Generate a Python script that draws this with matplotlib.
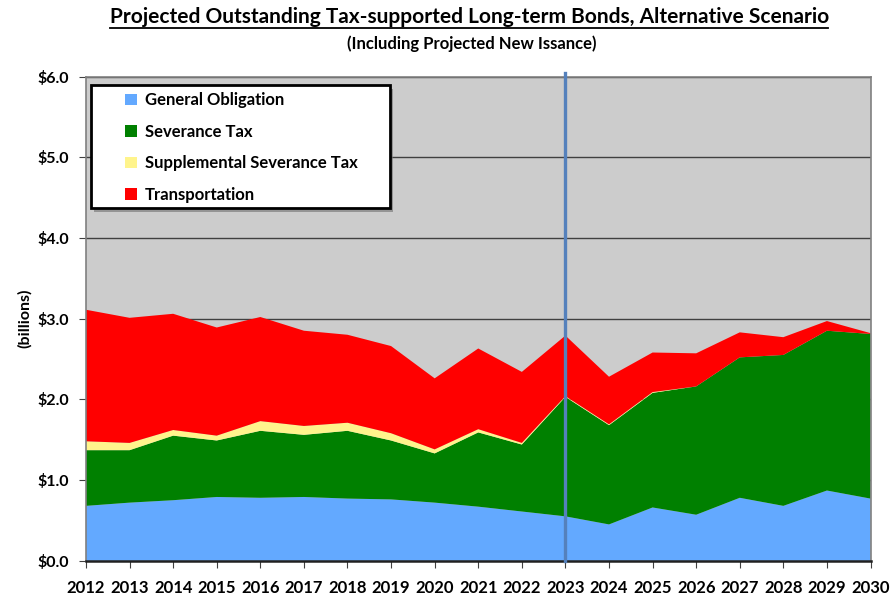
import matplotlib.pyplot as plt
from matplotlib.patches import Patch, Rectangle

plt.rcParams['font.family'] = ['Lato', 'DejaVu Sans']
plt.rcParams['font.weight'] = 'bold'

# Données (milliards de $)
annees = list(range(2012, 2031))
general_obligation = [0.68, 0.72, 0.75, 0.79, 0.78, 0.79, 0.77, 0.76, 0.72, 0.67,
                      0.61, 0.55, 0.45, 0.66, 0.57, 0.78, 0.68, 0.87, 0.77]
severance_tax = [0.69, 0.65, 0.80, 0.70, 0.83, 0.77, 0.84, 0.73, 0.61, 0.92,
                 0.83, 1.48, 1.23, 1.42, 1.59, 1.74, 1.87, 1.98, 2.04]
supplemental_severance = [0.11, 0.09, 0.07, 0.06, 0.12, 0.11, 0.10, 0.09, 0.05, 0.04,
                          0.02, 0.01, 0.01, 0.01, 0.0, 0.0, 0.0, 0.0, 0.0]
transportation = [1.63, 1.55, 1.44, 1.34, 1.29, 1.18, 1.09, 1.08, 0.88, 1.00,
                  0.88, 0.75, 0.59, 0.49, 0.41, 0.31, 0.22, 0.12, 0.01]

noms = ['General Obligation', 'Severance Tax', 'Supplemental Severance Tax', 'Transportation']
couleurs = ['#63A9FF', '#008000', '#FFF48C', '#FF0000']
annee_coupure = 2023

fig = plt.figure(figsize=(8.91, 5.95), dpi=100)
ax = fig.add_axes([0.0965, 0.0576, 0.8805, 0.8138])
ax.set_facecolor('#CCCCCC')

ax.stackplot(annees, general_obligation, severance_tax, supplemental_severance,
             transportation, colors=couleurs, zorder=2)

# Grille horizontale
for y in range(1, 7):
    ax.axhline(y, color='#404040', lw=1, zorder=1)

# Ligne verticale de séparation (dépasse un peu en haut)
ax.axvline(annee_coupure, ymin=0, ymax=1.007, color='#5581BC', lw=2.4, zorder=3,
           clip_on=False)

ax.set_xlim(2012, 2030)
ax.set_ylim(0, 6)
ax.set_xticks(annees)
ax.set_xticklabels([str(a) for a in annees], fontsize=12, fontweight='bold')
ax.set_yticks(range(0, 7))
ax.set_yticklabels(['$%d.0' % v for v in range(0, 7)], fontsize=11.5, fontweight='bold')
ax.tick_params(direction='out', length=5, color='#404040')
ax.tick_params(axis='x', pad=9)
ax.tick_params(axis='y', pad=7)
ax.set_ylabel('(billions)', fontsize=11.5, fontweight='bold', labelpad=4)

for s in ['top', 'right', 'left']:
    ax.spines[s].set_color('#808080')
    ax.spines[s].set_linewidth(1.2)
ax.spines['bottom'].set_color('#202020')
ax.spines['bottom'].set_linewidth(1.8)

# Titres
fig.text(0.527, 0.971, 'Projected Outstanding Tax-supported Long-term Bonds, Alternative Scenario',
         ha='center', va='center', fontsize=15, fontweight='bold')
fig.add_artist(plt.Line2D([0.1235, 0.9295], [0.953, 0.953], color='black', lw=1.3,
                          transform=fig.transFigure))
fig.text(0.529, 0.926, '(Including Projected New Issance)',
         ha='center', va='center', fontsize=12, fontweight='bold')

# Cadre de la légende avec ombre
ombre = Rectangle((0.0105, 0.7210), 0.381, 0.2540, transform=ax.transAxes,
                  facecolor='#707070', edgecolor='none', alpha=0.6, zorder=4)
cadre = Rectangle((0.0064, 0.7284), 0.381, 0.2540, transform=ax.transAxes,
                  facecolor='white', edgecolor='black', lw=2, zorder=5)
ax.add_patch(ombre)
ax.add_patch(cadre)

handles = [Patch(facecolor=c, edgecolor='none') for c in couleurs]
leg = ax.legend(handles, noms, loc='upper left', bbox_to_anchor=(0.050, 0.9675),
                frameon=False, handlelength=0.7, handleheight=0.7, handletextpad=0.5,
                labelspacing=0.93, borderpad=0, borderaxespad=0,
                prop={'weight': 'bold', 'size': 12})
leg.set_zorder(6)

fig.savefig('out.png', dpi=100)
